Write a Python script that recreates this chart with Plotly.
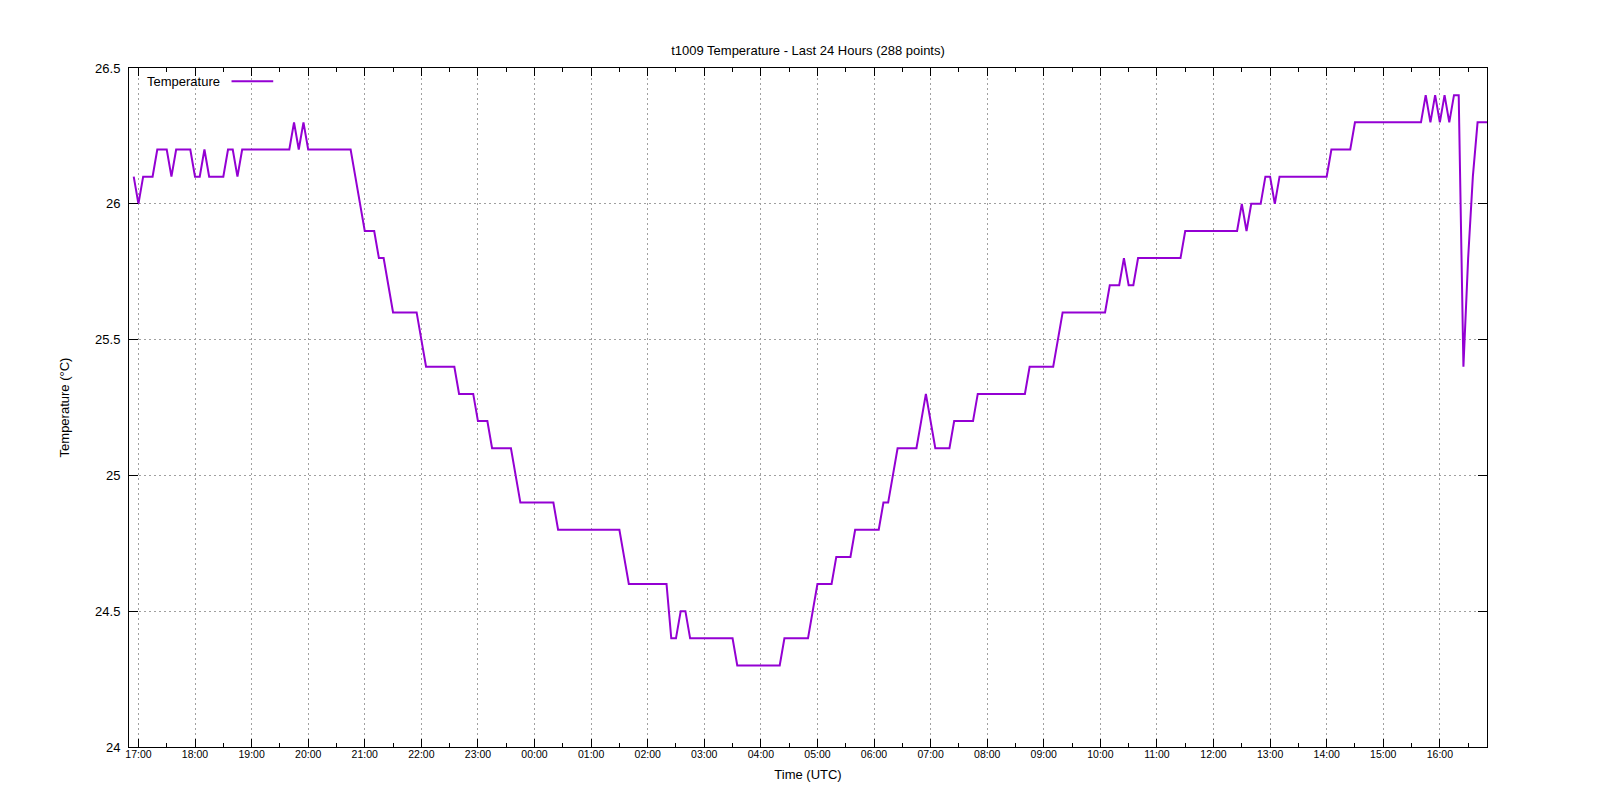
import pandas as pd
import plotly.graph_objects as go

# ---- data (5-minute samples, 288 points) ----
temperature = [
    26.1, 26.0, 26.1, 26.1, 26.1, 26.2, 26.2, 26.2, 26.1, 26.2, 26.2, 26.2,
    26.2, 26.1, 26.1, 26.2, 26.1, 26.1, 26.1, 26.1, 26.2, 26.2, 26.1, 26.2,
    26.2, 26.2, 26.2, 26.2, 26.2, 26.2, 26.2, 26.2, 26.2, 26.2, 26.3, 26.2,
    26.3, 26.2, 26.2, 26.2, 26.2, 26.2, 26.2, 26.2, 26.2, 26.2, 26.2, 26.1,
    26.0, 25.9, 25.9, 25.9, 25.8, 25.8, 25.7, 25.6, 25.6, 25.6, 25.6, 25.6,
    25.6, 25.5, 25.4, 25.4, 25.4, 25.4, 25.4, 25.4, 25.4, 25.3, 25.3, 25.3,
    25.3, 25.2, 25.2, 25.2, 25.1, 25.1, 25.1, 25.1, 25.1, 25.0, 24.9, 24.9,
    24.9, 24.9, 24.9, 24.9, 24.9, 24.9, 24.8, 24.8, 24.8, 24.8, 24.8, 24.8,
    24.8, 24.8, 24.8, 24.8, 24.8, 24.8, 24.8, 24.8, 24.7, 24.6, 24.6, 24.6,
    24.6, 24.6, 24.6, 24.6, 24.6, 24.6, 24.4, 24.4, 24.5, 24.5, 24.4, 24.4,
    24.4, 24.4, 24.4, 24.4, 24.4, 24.4, 24.4, 24.4, 24.3, 24.3, 24.3, 24.3,
    24.3, 24.3, 24.3, 24.3, 24.3, 24.3, 24.4, 24.4, 24.4, 24.4, 24.4, 24.4,
    24.5, 24.6, 24.6, 24.6, 24.6, 24.7, 24.7, 24.7, 24.7, 24.8, 24.8, 24.8,
    24.8, 24.8, 24.8, 24.9, 24.9, 25.0, 25.1, 25.1, 25.1, 25.1, 25.1, 25.2,
    25.3, 25.2, 25.1, 25.1, 25.1, 25.1, 25.2, 25.2, 25.2, 25.2, 25.2, 25.3,
    25.3, 25.3, 25.3, 25.3, 25.3, 25.3, 25.3, 25.3, 25.3, 25.3, 25.4, 25.4,
    25.4, 25.4, 25.4, 25.4, 25.5, 25.6, 25.6, 25.6, 25.6, 25.6, 25.6, 25.6,
    25.6, 25.6, 25.6, 25.7, 25.7, 25.7, 25.8, 25.7, 25.7, 25.8, 25.8, 25.8,
    25.8, 25.8, 25.8, 25.8, 25.8, 25.8, 25.8, 25.9, 25.9, 25.9, 25.9, 25.9,
    25.9, 25.9, 25.9, 25.9, 25.9, 25.9, 25.9, 26.0, 25.9, 26.0, 26.0, 26.0,
    26.1, 26.1, 26.0, 26.1, 26.1, 26.1, 26.1, 26.1, 26.1, 26.1, 26.1, 26.1,
    26.1, 26.1, 26.2, 26.2, 26.2, 26.2, 26.2, 26.3, 26.3, 26.3, 26.3, 26.3,
    26.3, 26.3, 26.3, 26.3, 26.3, 26.3, 26.3, 26.3, 26.3, 26.3, 26.4, 26.3,
    26.4, 26.3, 26.4, 26.3, 26.4, 26.4, 25.4, 25.8, 26.1, 26.3, 26.3, 26.3,
]
first_sample = "2025-01-01 16:55"
sample_step = "5min"
x_window = ["2025-01-01 16:50", "2025-01-02 16:50"]
first_hour_tick = "2025-01-01 17:00"
y_tick_values = [24, 24.5, 25, 25.5, 26, 26.5]
y_tick_labels = ["24", "24.5", "25", "25.5", "26", "26.5"]
series_name = "Temperature"
title_text = "t1009 Temperature - Last 24 Hours (288 points)"

times = pd.date_range(start=first_sample, periods=len(temperature), freq=sample_step)

FONT = "Liberation Sans, Arial, sans-serif"
LINE_COLOR = "#9400d3"
GRID_COLOR = "#a0a0a0"

fig = go.Figure()
fig.add_trace(go.Scatter(
    x=times, y=temperature, mode="lines", name=series_name,
    line=dict(color=LINE_COLOR, width=2), showlegend=False,
))

common_axis = dict(
    showline=True, linecolor="black", linewidth=1, mirror="allticks",
    ticks="inside", tickcolor="black", tickwidth=1,
    showgrid=True, gridcolor=GRID_COLOR, gridwidth=1, griddash="2px,3px",
    zeroline=False,
)

fig.update_xaxes(
    type="date", range=x_window, tickformat="%H:%M",
    tick0=first_hour_tick, dtick=3600000, ticklen=8,
    tickfont=dict(family=FONT, size=10.5, color="black"),
    ticklabelstandoff=-3,
    minor=dict(ticks="inside", ticklen=4, dtick=1800000, tickcolor="black", showgrid=False),
    title=dict(text="Time (UTC)", font=dict(family=FONT, size=13, color="black"), standoff=11),
    **common_axis,
)
fig.update_yaxes(
    range=[24, 26.5], tickmode="array", tickvals=y_tick_values, ticktext=y_tick_labels,
    ticklen=9, ticklabelstandoff=5,
    tickfont=dict(family=FONT, size=13, color="black"),
    title=dict(text="Temperature (°C)", font=dict(family=FONT, size=13, color="black"), standoff=22),
    **common_axis,
)

# legend drawn gnuplot-style: text followed by the line sample
fig.add_annotation(
    xref="paper", yref="paper", x=0.0118, y=0.9804, xanchor="left", yanchor="middle",
    text=series_name, showarrow=False, font=dict(family=FONT, size=13, color="black"),
)
fig.add_shape(
    type="line", xref="paper", yref="paper", x0=0.0755, x1=0.1062, y0=0.9804, y1=0.9804,
    line=dict(color=LINE_COLOR, width=2),
)

fig.update_layout(
    width=1600, height=800,
    margin=dict(l=121, r=121, t=60, b=61),
    paper_bgcolor="white", plot_bgcolor="white",
    title=dict(text=title_text, x=0.5, xanchor="center", y=1 - 42 / 800, yanchor="middle",
               yref="container", font=dict(family=FONT, size=13, color="black")),
    font=dict(family=FONT, color="black"),
)

fig.write_html("out.html")
